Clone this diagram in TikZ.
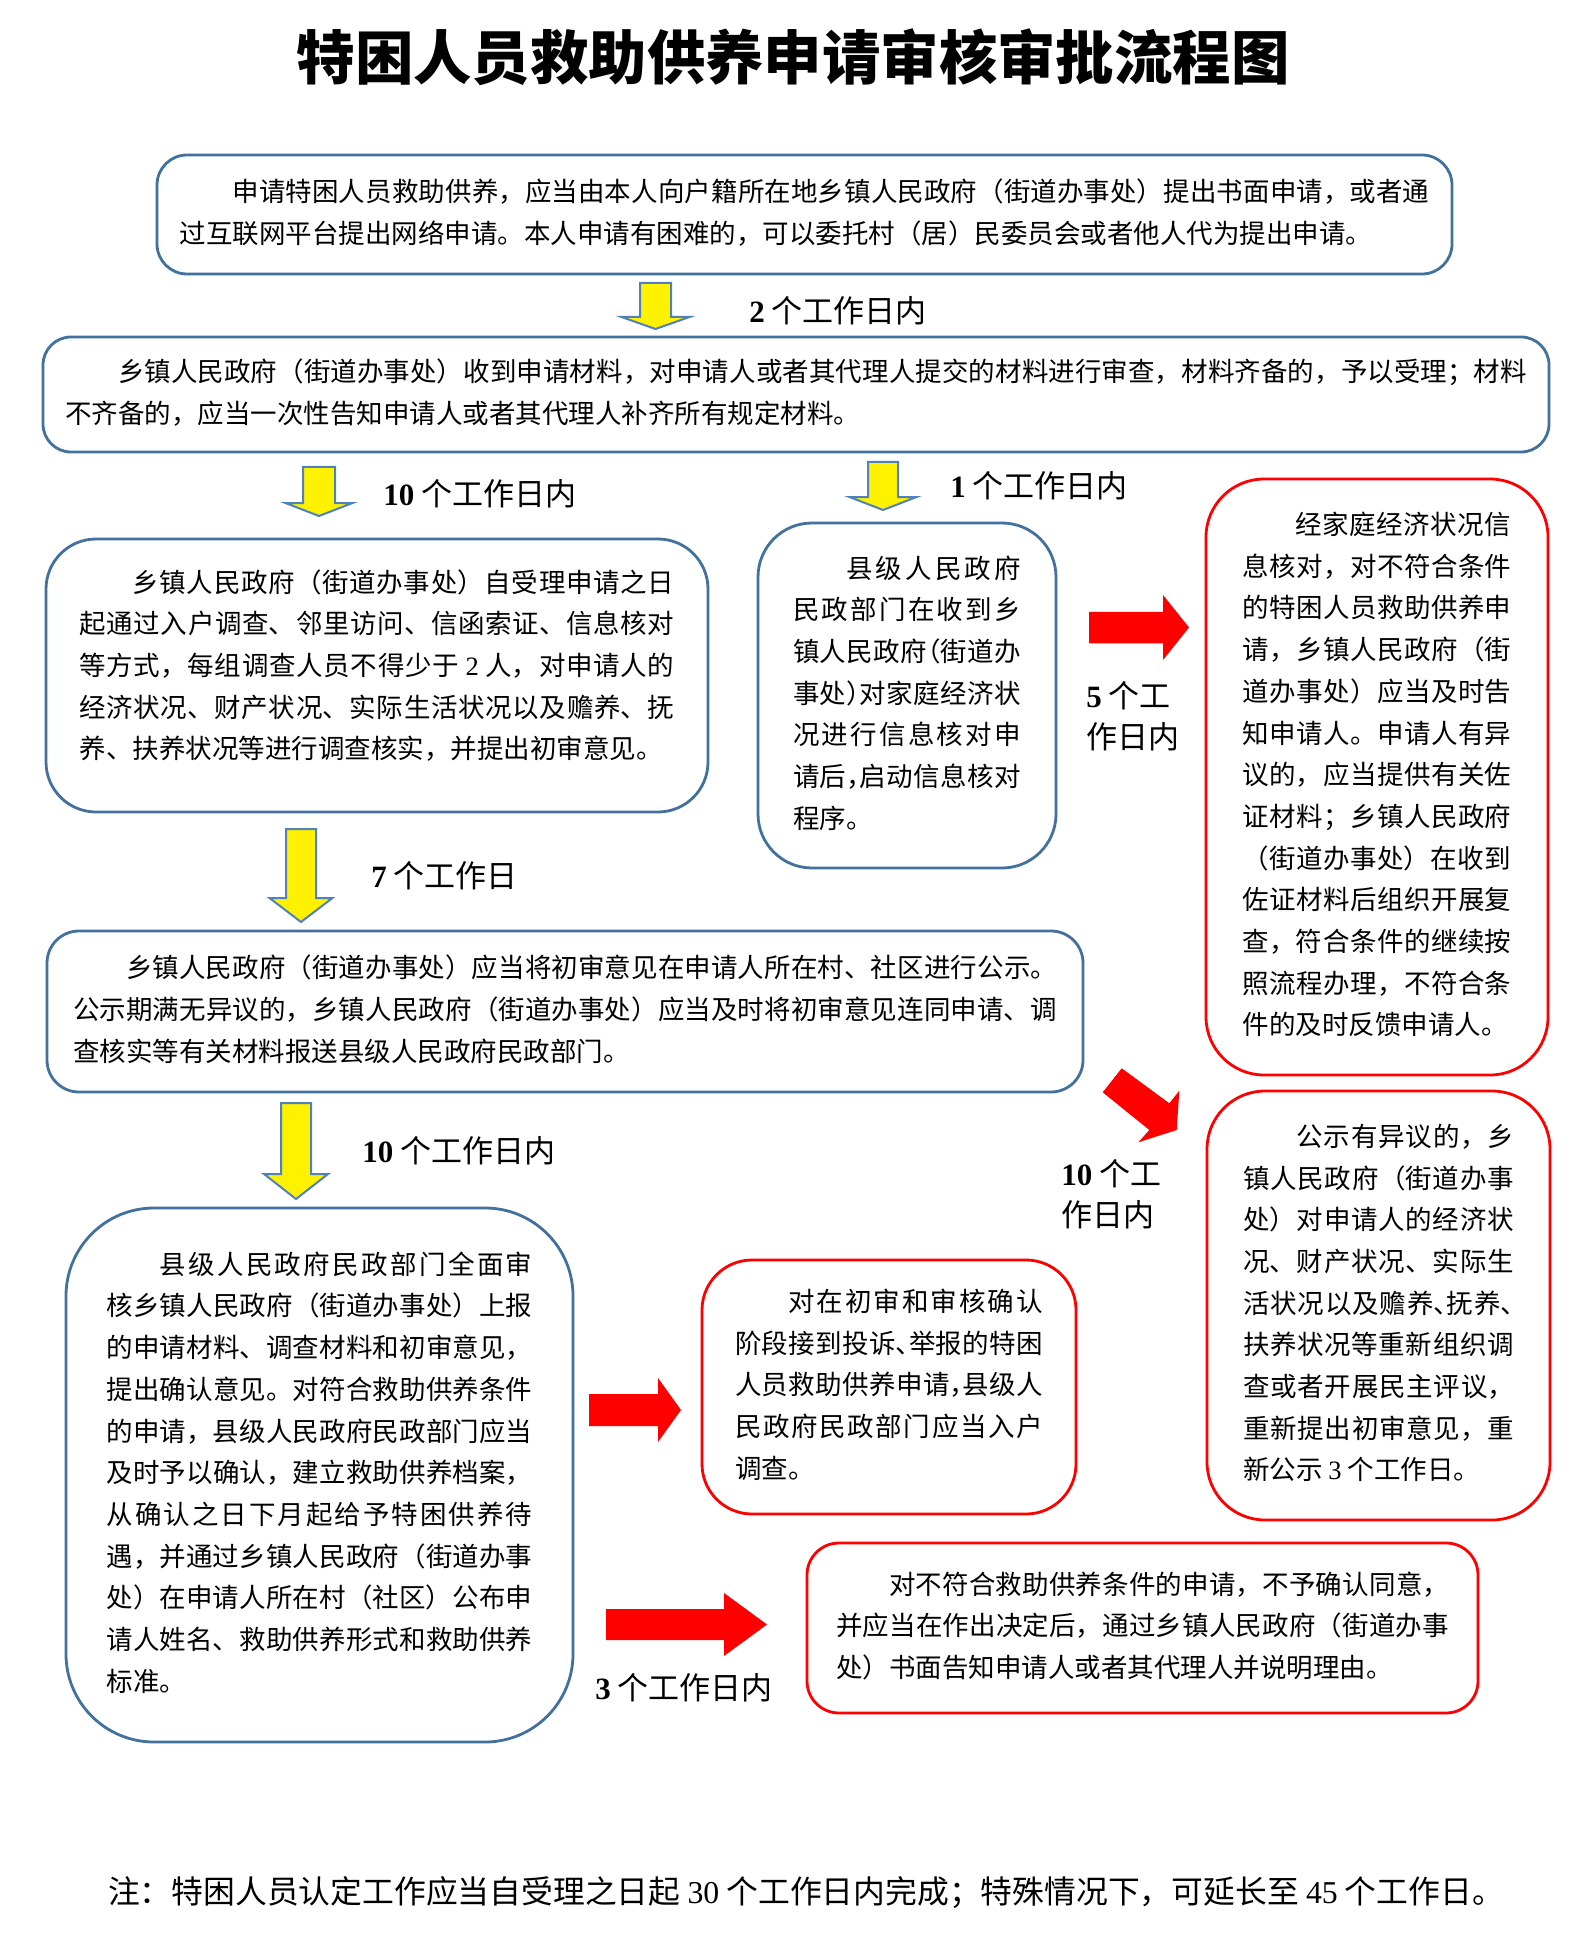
\documentclass[tikz,border=0pt]{standalone}
\usepackage{fontspec}
\setmainfont{Noto Sans CJK SC}
\newfontfamily\numfont{Liberation Serif}
\XeTeXlinebreaklocale "zh"
\XeTeXlinebreakskip=0pt plus 2pt minus 0.3pt
\tolerance=10000
\hbadness=10000
\hfuzz=30pt
\setlength\parindent{0pt}
\definecolor{boxblue}{RGB}{65,113,156}
\definecolor{arrowblue}{RGB}{79,129,189}
\definecolor{boxred}{RGB}{255,0,0}
\newcommand\bodyfont{\fontsize{13.25}{20.85}\selectfont}
\newcommand\lblfont{\fontsize{15.5}{20.5}\selectfont}
\newcommand\dg[1]{{\numfont\bfseries #1}}
\newcommand\halfl[1]{\makebox[0.5em][l]{#1}}
\newcommand\halfr[1]{\makebox[0.5em][r]{#1}}
% invisible depth at the end of a text, lifting the text a little
\newcommand\lift[1]{\rule[-#1]{0pt}{0pt}}
% yellow down arrow: centre x, top, shaft half width, head half width, head base, tip
\newcommand\ydown[6]{\draw[yarrow] (#1-#3,#2) -- (#1+#3,#2) -- (#1+#3,#5) -- (#1+#4,#5) -- (#1,#6) -- (#1-#4,#5) -- (#1-#3,#5) -- cycle;}
% red right arrow: tail x, centre y, shaft half width, head base x, head half width, tip x
\newcommand\rright[6]{\fill[rarrow] (#1,#2-#3) -- (#4,#2-#3) -- (#4,#2-#5) -- (#6,#2) -- (#4,#2+#5) -- (#4,#2+#3) -- (#1,#2+#3) -- cycle;}
\begin{document}
\begin{tikzpicture}[x=0.5pt,y=-0.5pt,
  box/.style={line width=1.4pt, fill=white, align=justify, inner sep=0pt, font=\bodyfont},
  bluebox/.style={box, draw=boxblue},
  redbox/.style={box, draw=boxred},
  yarrow/.style={fill=yellow, draw=arrowblue, line width=1pt, line join=miter},
  rarrow/.style={fill=red},
  lbl/.style={anchor=west, inner sep=0pt, font=\lblfont, align=left},
  ]
\fill[white] (0,0) rectangle (1587,1936);
\useasboundingbox (0,0) rectangle (1587,1936);

% title
\node[inner sep=0pt, font=\fontsize{29.2}{34}\selectfont\bfseries] (title) at (793,57.5) {特困人员救助供养申请审核审批流程图};

% boxes
\node[bluebox, rounded corners=15pt, minimum width=647.5pt, minimum height=59.5pt, text width=625pt] (b1) at (804.5,214.5) {\hspace*{2em}申请特困人员救助供养，应当由本人向户籍所在地乡镇人民政府（街道办事处）提出书面申请，或者通\linebreak%
过互联网平台提出网络申请。本人申请有困难的，可以委托村（居）民委员会或者他人代为提出申请。\lift{3.5pt}};

\node[bluebox, rounded corners=14pt, minimum width=753pt, minimum height=57.5pt, text width=731pt] (b2) at (796,394.5) {\hspace*{2em}乡镇人民政府（街道办事处）收到申请材料，对申请人或者其代理人提交的材料进行审查，材料齐备的，予以受理；材料\linebreak%
不齐备的，应当一次性告知申请人或者其代理人补齐所有规定材料。\lift{3.5pt}};

\node[bluebox, rounded corners=25pt, minimum width=331pt, minimum height=136.5pt, text width=297.5pt] (b3) at (377,675.5) {\hspace*{2em}乡镇人民政府（街道办事处）自受理申请之日\linebreak%
起通过入户调查、邻里访问、信函索证、信息核对\linebreak%
等方式，每组调查人员不得少于 {\numfont 2} 人，对申请人的\linebreak%
经济状况、财产状况、实际生活状况以及赡养、抚\linebreak%
养、扶养状况等进行调查核实，并提出初审意见。\lift{11.3pt}};

\node[bluebox, rounded corners=27pt, minimum width=149pt, minimum height=172.5pt, text width=114pt] (b4) at (907,695.5) {\hspace*{2em}县级人民政府\linebreak%
民政部门在收到乡\linebreak%
镇人民政府\halfr{（}街道办\linebreak%
事处\halfl{）}对家庭经济状\linebreak%
况进行信息核对申\linebreak%
请后\halfl{，}启动信息核对\linebreak%
程序。\lift{3.5pt}};

\node[redbox, rounded corners=29pt, minimum width=171pt, minimum height=298pt, text width=134.5pt] (b5) at (1377,777) {\hspace*{2em}经家庭经济状况信\linebreak%
息核对，对不符合条件\linebreak%
的特困人员救助供养申\linebreak%
请，乡镇人民政府（街\linebreak%
道办事处）应当及时告\linebreak%
知申请人。申请人有异\linebreak%
议的，应当提供有关佐\linebreak%
证材料；乡镇人民政府\linebreak%
（街道办事处）在收到\linebreak%
佐证材料后组织开展复\linebreak%
查，符合条件的继续按\linebreak%
照流程办理，不符合条\linebreak%
件的及时反馈申请人。\lift{3.5pt}};

\node[bluebox, rounded corners=16pt, minimum width=518pt, minimum height=80.5pt, text width=492pt] (b6) at (565,1011.5) {\hspace*{2em}乡镇人民政府（街道办事处）应当将初审意见在申请人所在村、社区进行公示。\linebreak%
公示期满无异议的，乡镇人民政府（街道办事处）应当及时将初审意见连同申请、调\linebreak%
查核实等有关材料报送县级人民政府民政部门。\lift{3.5pt}};

\node[redbox, rounded corners=29pt, minimum width=171.5pt, minimum height=214.5pt, text width=135.5pt] (b7) at (1378.5,1305.5) {\hspace*{2em}公示有异议的，乡\linebreak%
镇人民政府（街道办事\linebreak%
处）对申请人的经济状\linebreak%
况、财产状况、实际生\linebreak%
活状况以及赡养\halfl{、}抚养\halfl{、}\linebreak%
扶养状况等重新组织调\linebreak%
查或者开展民主评议，\linebreak%
重新提出初审意见，重\linebreak%
新公示 {\numfont 3} 个工作日。\lift{3.5pt}};

\node[bluebox, rounded corners=44pt, minimum width=253.5pt, minimum height=267pt, text width=213pt] (b8) at (319.5,1475) {\hspace*{2em}县级人民政府民政部门全面审\linebreak%
核乡镇人民政府（街道办事处）上报\linebreak%
的申请材料、调查材料和初审意见，\linebreak%
提出确认意见。对符合救助供养条件\linebreak%
的申请，县级人民政府民政部门应当\linebreak%
及时予以确认，建立救助供养档案，\linebreak%
从确认之日下月起给予特困供养待\linebreak%
遇，并通过乡镇人民政府（街道办事\linebreak%
处）在申请人所在村（社区）公布申\linebreak%
请人姓名、救助供养形式和救助供养\linebreak%
标准。\lift{3.5pt}};

\node[redbox, rounded corners=25pt, minimum width=187pt, minimum height=127pt, text width=154pt] (b9) at (889,1387) {\hspace*{2em}对在初审和审核确认\linebreak%
阶段接到投诉\halfl{、}举报的特困\linebreak%
人员救助供养申请\halfl{，}县级人\linebreak%
民政府民政部门应当入户\linebreak%
调查。\lift{3.5pt}};

\node[redbox, rounded corners=16pt, minimum width=335.5pt, minimum height=85pt, text width=306.5pt] (b10) at (1142.5,1628) {\hspace*{2em}对不符合救助供养条件的申请，不予确认同意，\linebreak%
并应当在作出决定后，通过乡镇人民政府（街道办事\linebreak%
处）书面告知申请人或者其代理人并说明理由。\lift{3.5pt}};

% yellow arrows
\ydown{655.5}{283}{15.5}{34}{317}{329}
\ydown{319}{467}{16}{33.5}{503}{516}
\ydown{883}{462}{15}{33.5}{497}{510}
\ydown{301}{829}{15}{31.5}{898}{922}
\ydown{296}{1103}{15}{32}{1174}{1199}

% red arrows
\rright{1089}{627.5}{15.75}{1163}{32.5}{1189}
\rright{589}{1410}{16}{658}{32}{681}
\rright{606}{1624.5}{15.5}{724}{31.5}{767}
\fill[rarrow] (1121.7,1068.3) -- (1169.3,1103.3) -- (1179.3,1090.7) -- (1176.7,1130) -- (1138.3,1142.3) -- (1149.3,1130) -- (1102.7,1092.3) -- cycle;

% labels
\node[lbl] (l2) at (749,311) {\dg{2} 个工作日内};
\node[lbl] (l10a) at (383,494) {\dg{10} 个工作日内};
\node[lbl] (l1) at (950,486) {\dg{1} 个工作日内};
\node[lbl] (l7) at (371,876) {\dg{7} 个工作日};
\node[lbl] (l5) at (1086,716.5) {\dg{5} 个工\\作日内};
\node[lbl] (l10b) at (362,1151) {\dg{10} 个工作日内};
\node[lbl] (l10c) at (1061,1194) {\dg{10} 个工\\作日内};
\node[lbl] (l3) at (595,1688) {\dg{3} 个工作日内};

% footnote
\node[inner sep=0pt, font=\fontsize{15.9}{19}\selectfont] (note) at (806,1893) {注：特困人员认定工作应当自受理之日起 {\numfont 30} 个工作日内完成；特殊情况下，可延长至 {\numfont 45} 个工作日。};
\end{tikzpicture}
\end{document}
